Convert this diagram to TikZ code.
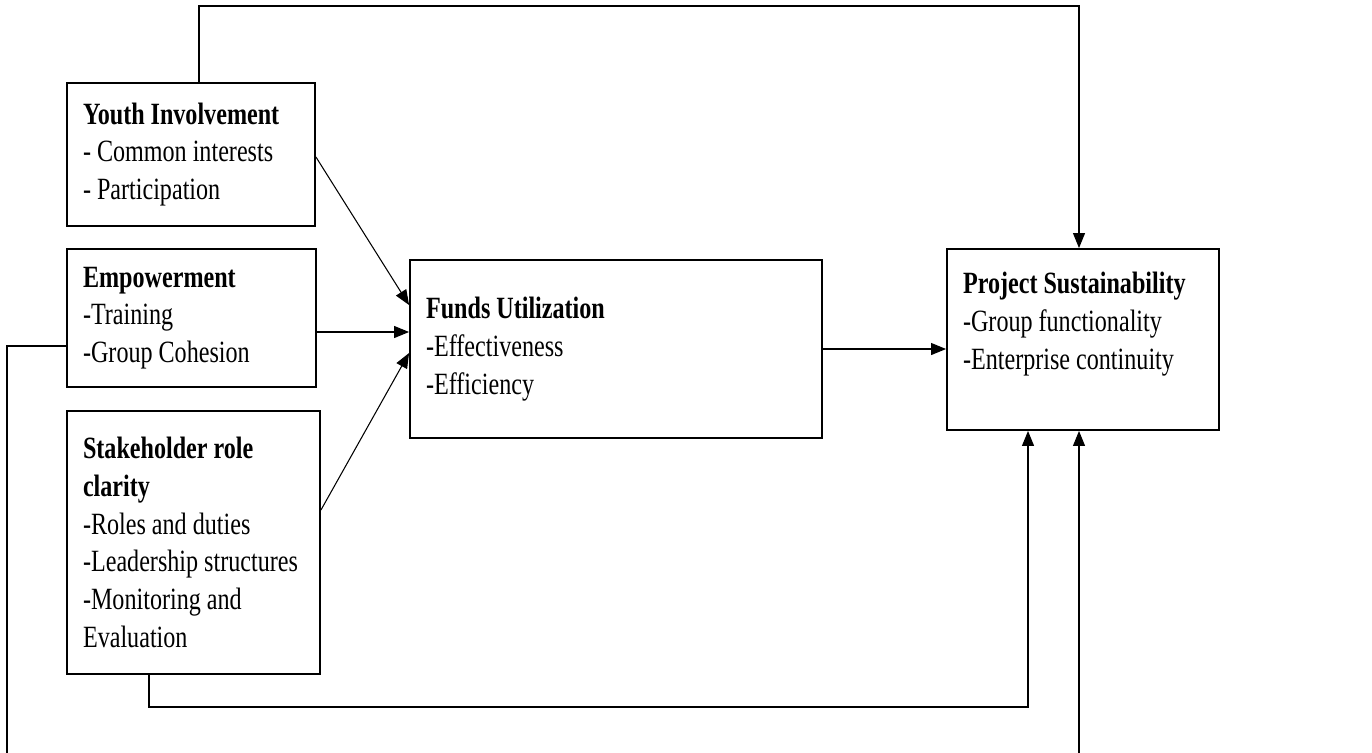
\documentclass[tikz,border=0pt]{standalone}
\usepackage{fontspec}
\setmainfont{Liberation Serif}[FakeStretch=0.78]
\usetikzlibrary{arrows.meta,positioning,calc}
\newcommand{\boxfont}{\fontsize{17.6}{21.5}\selectfont}
\newcommand{\tsp}{\spaceskip=3.4pt plus 1pt minus 0.5pt\relax}

\begin{document}
\begin{tikzpicture}[
  x=0.02cm, y=-0.02cm,
  block/.style={rectangle, draw=black, line width=1.1pt, align=left, inner xsep=0.32cm, inner ysep=0.1cm, font=\boxfont},
  arrow/.style={-{Triangle[length=0.3cm,width=0.24cm]}, line width=0.6pt, draw=black}
]
\useasboundingbox (0,0) rectangle (1372,752);
\node[block, text width=4.32cm, minimum height=2.86cm] (youth) at (191,154.5) {\tsp\textbf{Youth Involvement}\\- Common interests\\- Participation};
\node[block, text width=4.34cm, minimum height=2.76cm] (emp) at (191.5,318) {\tsp\textbf{Empowerment}\\-Training\\-Group Cohesion};
\node[block, text width=4.42cm, minimum height=5.26cm] (stake) at (193.5,542.5) {\tsp\textbf{Stakeholder role}\\\textbf{clarity}\\-Roles and duties\\-Leadership structures\\-Monitoring and\\Evaluation};
\node[block, text width=7.60cm, minimum height=3.56cm] (funds) at (616,349) {\tsp\textbf{Funds Utilization}\\-Effectiveness\\-Efficiency};
\node[block, text width=4.80cm, minimum height=3.62cm] (proj) at (1083,339.5) {\tsp\textbf{Project Sustainability}\\-Group functionality\\-Enterprise continuity\\\mbox{}};

\coordinate (toprun) at (0,6);
\coordinate (lowrun) at (0,707);
\coordinate (leftlow) at (7,765);
\coordinate (ytop) at ([xshift=0.16cm]youth.north);
\coordinate (ptop) at ([xshift=-0.08cm]proj.north);
\coordinate (sbot) at ([xshift=-0.89cm]stake.south);
\coordinate (pbl) at ([xshift=-1.1cm]proj.south);
\coordinate (pbr) at ([xshift=-0.08cm]proj.south);

\draw[arrow] ([yshift=-0.05cm]youth.east) -- ([yshift=0.88cm]funds.west);
\draw[arrow] ([yshift=-0.28cm]emp.east) -- ([yshift=-0.28cm]emp.east -| funds.west);
\draw[arrow] ([yshift=0.65cm]stake.east) -- ([yshift=-0.08cm]funds.west);
\draw[arrow] (funds.east) -- (funds.east -| proj.west);
\draw[arrow] (ytop) -- (ytop |- toprun) -| (ptop);
\draw[arrow] (sbot) -- (sbot |- lowrun) -| (pbl);
\draw[arrow] ([yshift=-0.56cm]emp.west) -| (leftlow) -| (pbr);
\end{tikzpicture}
\end{document}
